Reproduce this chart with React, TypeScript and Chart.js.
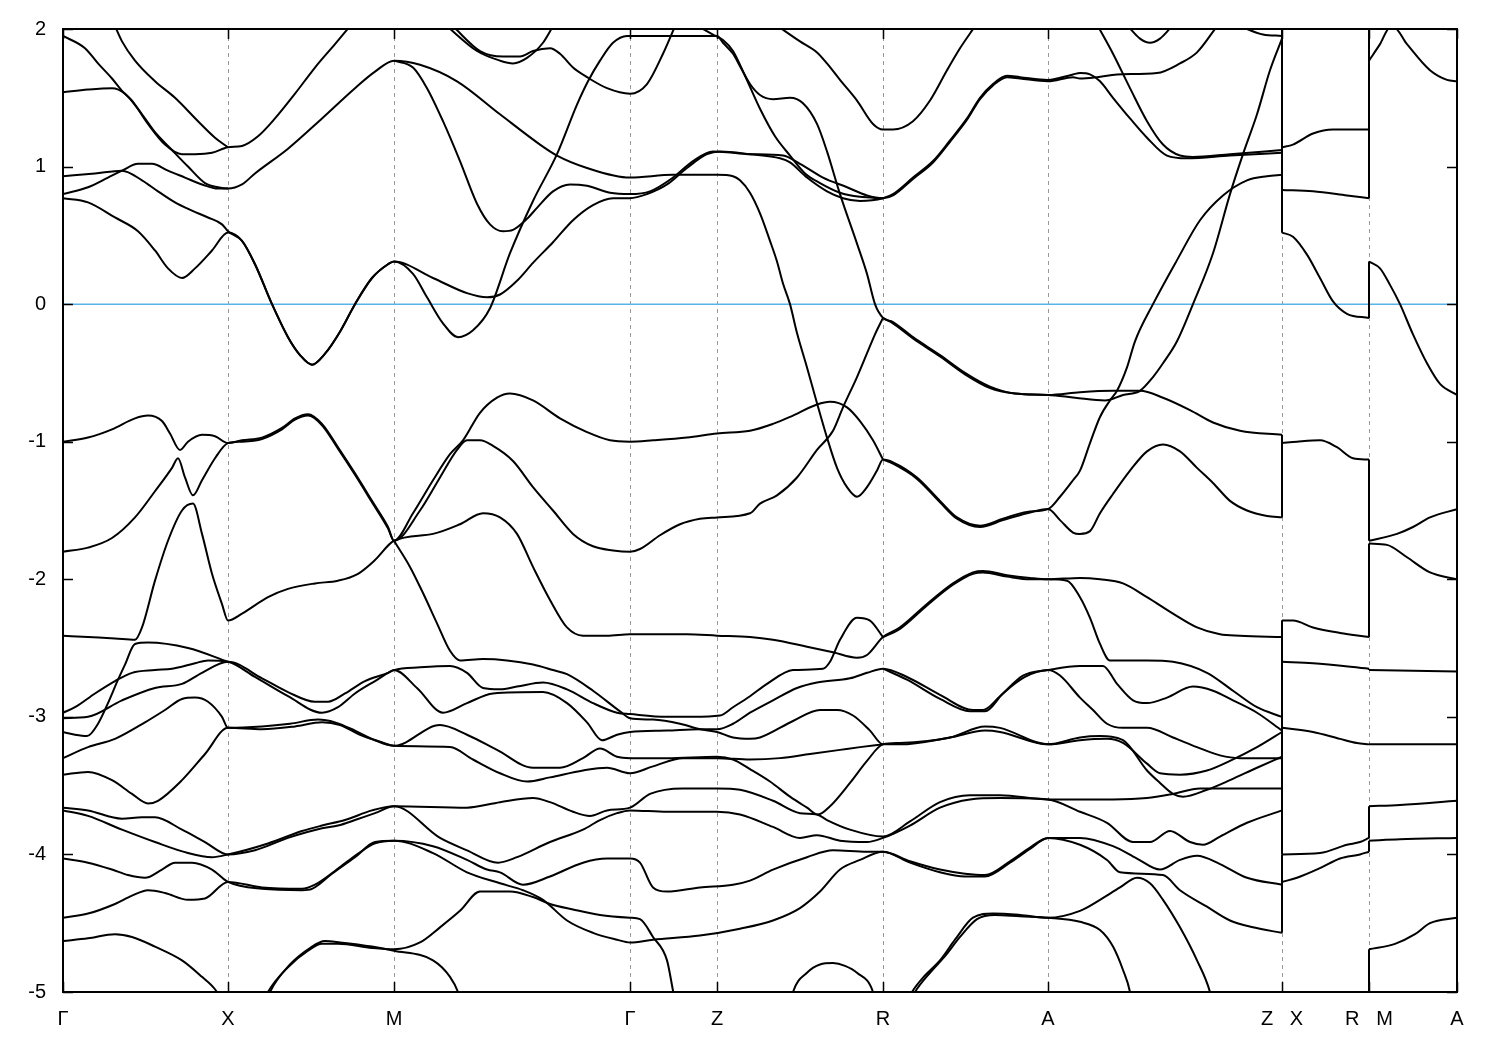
import React, { useEffect, useRef } from "react";
import { Chart, registerables } from "chart.js";
Chart.register(...registerables);

// high-symmetry k positions (path length units) and their labels
const K_POINTS = [0, 1.65, 3.31, 5.67, 6.54, 8.2, 9.85, 12.19, 13.06, 13.94];
const K_LABELS = ["Γ", "X", "M", "Γ", "Z", "R", "A", "Z   X", "R   M", "A"];
const Y_TICKS = [-5, -4, -3, -2, -1, 0, 1, 2];
const E_MIN = -5;
const E_MAX = 2;
const FERMI_LEVEL = 0;
const K_ZX = 12.19;
const K_RM = 13.06;

// ---- bands above about -1 eV (Γ-X-M-Γ-Z-R-A-Z), [k, E] pairs ----
const bandsUpper: number[][][] = [
  [[0,1.95],[0.22,1.86],[0.35,1.75],[0.49,1.64],[0.59,1.55],[0.69,1.48],[0.85,1.31],[1.02,1.16],[1.19,1.09],[1.32,1.09],[1.49,1.1],[1.65,1.14],[1.79,1.15],[1.95,1.22],[2.12,1.35],[2.32,1.53],[2.52,1.72],[2.72,1.89],[2.87,2.02]],
  [[0,1.54],[0.25,1.56],[0.49,1.57],[0.62,1.53],[0.79,1.38],[0.92,1.25],[1.09,1.12],[1.25,1.0],[1.42,0.88],[1.55,0.85],[1.65,0.84],[1.79,0.87],[1.92,0.95],[2.25,1.13],[2.59,1.35],[2.92,1.57],[3.12,1.69],[3.31,1.77],[3.57,1.74],[3.94,1.62],[4.37,1.38],[4.77,1.16],[4.94,1.08],[5.24,0.99],[5.67,0.92],[6.1,0.94],[6.54,0.94],[6.7,0.93],[6.77,0.9],[6.87,0.81],[6.97,0.66],[7.07,0.46],[7.14,0.31],[7.2,0.15],[7.27,0],[7.34,-0.21],[7.44,-0.46],[7.54,-0.72],[7.64,-0.97],[7.74,-1.19],[7.84,-1.33],[7.94,-1.4],[8.04,-1.33],[8.14,-1.21],[8.2,-1.13],[8.3,-1.15],[8.54,-1.26],[8.77,-1.43],[8.94,-1.55],[9.17,-1.61],[9.4,-1.56],[9.64,-1.51],[9.85,-1.49],[9.97,-1.4],[10.1,-1.28],[10.17,-1.21],[10.27,-1.01],[10.37,-0.82],[10.47,-0.7],[10.54,-0.63],[10.64,-0.46],[10.72,-0.27],[10.9,0],[11.14,0.32],[11.37,0.61],[11.6,0.79],[11.84,0.9],[12.04,0.93],[12.19,0.94]],
  [[0.52,2.02],[0.59,1.91],[0.72,1.77],[0.92,1.62],[1.12,1.5],[1.35,1.33],[1.52,1.21],[1.65,1.14]],
  [[0,0.8],[0.25,0.85],[0.45,0.92],[0.59,0.97],[0.75,1.02],[0.89,1.02],[1.05,0.97],[1.22,0.92],[1.39,0.87],[1.55,0.84],[1.65,0.84]],
  [[0,0.93],[0.32,0.95],[0.59,0.97],[0.79,0.9],[0.95,0.82],[1.12,0.74],[1.29,0.68],[1.45,0.63],[1.59,0.58],[1.65,0.53],[1.79,0.46],[1.92,0.29],[2.09,0],[2.25,-0.24],[2.37,-0.37],[2.49,-0.44],[2.62,-0.36],[2.77,-0.2],[2.92,0],[3.09,0.19],[3.25,0.29],[3.31,0.31],[3.7,0.19],[4.04,0.08],[4.24,0.05],[4.37,0.07],[4.54,0.17],[4.7,0.3],[4.9,0.45],[5.1,0.61],[5.3,0.72],[5.5,0.77],[5.67,0.77],[5.84,0.8],[6.04,0.87],[6.24,0.99],[6.44,1.09],[6.57,1.11],[6.87,1.09],[7.17,1.06],[7.27,1.03],[7.44,0.92],[7.64,0.82],[7.8,0.77],[7.97,0.75],[8.2,0.77],[8.3,0.8],[8.5,0.92],[8.7,1.04],[8.87,1.19],[9.04,1.35],[9.17,1.5],[9.3,1.6],[9.44,1.66],[9.57,1.65],[9.85,1.63],[10.1,1.67],[10.17,1.68],[10.27,1.67],[10.37,1.62],[10.5,1.5],[10.67,1.35],[10.84,1.21],[11.04,1.08],[11.24,1.06],[11.67,1.08],[12.19,1.1]],
  [[0,0.77],[0.25,0.74],[0.52,0.63],[0.75,0.53],[0.92,0.39],[1.05,0.26],[1.19,0.19],[1.32,0.26],[1.49,0.39],[1.65,0.52],[1.79,0.46],[1.92,0.29],[2.09,0],[2.25,-0.24],[2.37,-0.37],[2.49,-0.44],[2.62,-0.36],[2.77,-0.2],[2.92,0],[3.09,0.19],[3.25,0.29],[3.31,0.31],[3.5,0.22],[3.64,0.05],[3.8,-0.14],[3.95,-0.24],[4.1,-0.19],[4.27,-0.03],[4.47,0.37],[4.7,0.75],[4.94,1.09],[5.14,1.45],[5.25,1.62],[5.37,1.77],[5.5,1.9],[5.64,1.95],[5.87,1.95],[6.27,1.95],[6.54,1.95],[6.6,1.9],[6.7,1.82],[6.77,1.73],[6.87,1.6],[6.97,1.52],[7.1,1.49],[7.27,1.5],[7.4,1.46],[7.54,1.31],[7.64,1.11],[7.77,0.8],[7.94,0.44],[8.04,0.22],[8.12,0],[8.2,-0.1],[8.3,-0.13],[8.5,-0.24],[8.77,-0.37],[9.02,-0.5],[9.27,-0.6],[9.52,-0.65],[9.85,-0.66],[10.12,-0.68],[10.42,-0.7],[10.6,-0.66],[10.77,-0.63],[10.9,-0.53],[11.0,-0.43],[11.14,-0.27],[11.3,0],[11.5,0.37],[11.67,0.8],[11.8,1.09],[11.94,1.38],[12.07,1.7],[12.19,1.93]],
  [[6.35,2.02],[6.5,1.96],[6.6,1.92],[6.7,1.84],[6.82,1.66],[6.97,1.42],[7.12,1.22],[7.27,1.08],[7.42,0.95],[7.57,0.88],[7.77,0.81],[7.97,0.78],[8.2,0.77]],
  [[3.31,1.77],[3.5,1.72],[3.64,1.57],[3.8,1.33],[3.97,1.04],[4.14,0.73],[4.27,0.58],[4.4,0.53],[4.5,0.54],[4.64,0.62],[4.74,0.7],[4.9,0.82],[5.07,0.87],[5.24,0.86],[5.47,0.81],[5.67,0.8],[5.87,0.82],[6.1,0.92],[6.3,1.04],[6.5,1.11],[6.7,1.1],[6.87,1.09],[7.2,1.08],[7.37,1.02],[7.6,0.92],[7.84,0.85],[8.04,0.79],[8.2,0.77],[8.3,0.79],[8.5,0.91],[8.7,1.03],[8.87,1.18],[9.04,1.34],[9.17,1.49],[9.3,1.59],[9.44,1.65],[9.57,1.64],[9.85,1.62],[10.1,1.65],[10.17,1.64],[10.34,1.65],[10.54,1.67],[10.94,1.68],[11.17,1.75],[11.34,1.83],[11.54,2.02]],
  [[3.84,2.02],[4.14,1.84],[4.37,1.77],[4.5,1.75],[4.64,1.79],[4.8,1.9],[4.9,2.02]],
  [[3.9,2.02],[4.17,1.84],[4.4,1.8],[4.57,1.8],[4.7,1.84],[4.87,1.86],[4.97,1.82],[5.1,1.72],[5.24,1.65],[5.44,1.57],[5.67,1.53],[5.84,1.6],[6.0,1.82],[6.12,2.02]],
  [[7.15,2.02],[7.37,1.91],[7.54,1.83],[7.64,1.75],[7.77,1.63],[7.94,1.48],[8.1,1.31],[8.2,1.27],[8.3,1.27],[8.5,1.33],[8.67,1.48],[8.84,1.7],[8.97,1.86],[9.12,2.02]],
  [[10.35,2.02],[10.5,1.82],[10.67,1.57],[10.84,1.33],[11.0,1.16],[11.17,1.08],[11.3,1.07],[11.67,1.09],[12.19,1.12]],
  [[10.65,2.02],[10.77,1.93],[10.87,1.9],[10.97,1.93],[11.09,2.02]],
  [[11.77,2.02],[12.0,1.96],[12.19,1.95]],
];

// ---- bands below about -1 eV ----
const bandsLower: number[][][] = [
  [[0,-1],[0.25,-0.97],[0.49,-0.91],[0.72,-0.83],[0.85,-0.81],[0.99,-0.85],[1.07,-0.94],[1.17,-1.06],[1.25,-1],[1.39,-0.95],[1.52,-0.96],[1.65,-1.01],[1.79,-0.99],[1.99,-0.97],[2.19,-0.9],[2.32,-0.83],[2.45,-0.8],[2.59,-0.87],[2.75,-1.04],[2.92,-1.23],[3.09,-1.43],[3.25,-1.62],[3.31,-1.72],[3.5,-1.52],[3.7,-1.28],[3.87,-1.09],[4.0,-0.99],[4.17,-0.79],[4.34,-0.68],[4.47,-0.65],[4.7,-0.7],[4.97,-0.83],[5.24,-0.93],[5.47,-0.99],[5.67,-1],[5.9,-0.99],[6.24,-0.97],[6.54,-0.94],[6.87,-0.92],[7.1,-0.87],[7.27,-0.82],[7.54,-0.73],[7.67,-0.71],[7.84,-0.75],[7.97,-0.85],[8.1,-0.99],[8.2,-1.13]],
  [[0,-1.8],[0.25,-1.77],[0.49,-1.7],[0.72,-1.55],[0.92,-1.36],[1.09,-1.19],[1.15,-1.12],[1.22,-1.26],[1.3,-1.39],[1.39,-1.28],[1.52,-1.12],[1.65,-1.01],[1.79,-1.0],[1.99,-0.98],[2.19,-0.91],[2.32,-0.84],[2.45,-0.81],[2.59,-0.88],[2.75,-1.05],[2.92,-1.24],[3.09,-1.44],[3.25,-1.63],[3.31,-1.72],[3.57,-1.5],[3.77,-1.26],[3.94,-1.06],[4.04,-0.99],[4.17,-0.99],[4.3,-1.03],[4.5,-1.14],[4.7,-1.33],[4.9,-1.5],[5.1,-1.67],[5.3,-1.76],[5.5,-1.79],[5.67,-1.8],[5.77,-1.78],[5.97,-1.68],[6.17,-1.6],[6.37,-1.56],[6.54,-1.55],[6.87,-1.52],[6.97,-1.45],[7.14,-1.39],[7.34,-1.26],[7.54,-1.06],[7.7,-0.92],[7.8,-0.75],[7.94,-0.53],[8.05,-0.34],[8.12,-0.22],[8.2,-0.1]],
  [[0,-2.41],[0.25,-2.42],[0.52,-2.43],[0.72,-2.44],[0.79,-2.35],[0.92,-2.01],[1.05,-1.72],[1.19,-1.5],[1.3,-1.45],[1.39,-1.67],[1.49,-1.96],[1.59,-2.18],[1.65,-2.3],[1.79,-2.25],[2.05,-2.13],[2.25,-2.07],[2.52,-2.03],[2.75,-2.01],[2.95,-1.96],[3.12,-1.86],[3.31,-1.72],[3.7,-1.67],[3.97,-1.6],[4.2,-1.52],[4.37,-1.55],[4.54,-1.67],[4.7,-1.91],[4.87,-2.15],[5.04,-2.35],[5.2,-2.41],[5.44,-2.41],[5.67,-2.4],[6.24,-2.4],[6.54,-2.41],[6.87,-2.42],[7.1,-2.44],[7.44,-2.49],[7.7,-2.53],[7.94,-2.57],[8.04,-2.55],[8.2,-2.42],[8.37,-2.35],[8.64,-2.18],[8.9,-2.03],[9.1,-1.95],[9.2,-1.94],[9.44,-1.97],[9.67,-1.99],[9.85,-2],[10.17,-1.99],[10.37,-2],[10.6,-2.03],[10.84,-2.13],[11.1,-2.25],[11.34,-2.35],[11.57,-2.4],[11.77,-2.41],[12.19,-2.42]],
  [[3.31,-1.72],[3.47,-1.91],[3.6,-2.1],[3.74,-2.32],[3.87,-2.52],[3.97,-2.59],[4.2,-2.58],[4.44,-2.59],[4.7,-2.62],[4.9,-2.66],[5.04,-2.69],[5.3,-2.81],[5.57,-2.96],[5.67,-3.01],[5.9,-3.02],[6.17,-3.05],[6.37,-3.09],[6.54,-3.11],[6.7,-3.15],[6.87,-3.16],[6.97,-3.15],[7.3,-3.03],[7.57,-2.95],[7.74,-2.95],[7.9,-2.99],[8.07,-3.1],[8.2,-3.2],[8.37,-3.2],[8.87,-3.15],[9.22,-3.1],[9.37,-3.11],[9.85,-3.2],[10.17,-3.15],[10.37,-3.14],[10.6,-3.17],[10.84,-3.39],[10.97,-3.48],[11.1,-3.56],[11.2,-3.58],[11.44,-3.53],[11.67,-3.46],[11.94,-3.37],[12.19,-3.29]],
  [[0,-2.97],[0.12,-2.93],[0.32,-2.83],[0.52,-2.74],[0.69,-2.68],[0.92,-2.66],[1.09,-2.65],[1.32,-2.61],[1.45,-2.59],[1.65,-2.6],[1.92,-2.71],[2.25,-2.85],[2.59,-2.97],[2.75,-2.93],[2.92,-2.83],[3.12,-2.74],[3.31,-2.66],[3.57,-2.64],[3.87,-2.63],[4.04,-2.68],[4.2,-2.79],[4.37,-2.8],[4.54,-2.78],[4.8,-2.75],[5.04,-2.8],[5.3,-2.9],[5.54,-2.97],[5.67,-2.98],[6.04,-3.0],[6.3,-3.0],[6.57,-2.99],[6.7,-2.93],[6.87,-2.85],[7.04,-2.76],[7.3,-2.66],[7.6,-2.65],[7.67,-2.6],[7.77,-2.44],[7.94,-2.28],[8.07,-2.3],[8.2,-2.42]],
  [[0,-3.01],[0.25,-3.0],[0.59,-2.88],[0.92,-2.79],[1.19,-2.76],[1.39,-2.68],[1.65,-2.6],[1.99,-2.72],[2.25,-2.82],[2.52,-2.89],[2.65,-2.89],[2.82,-2.83],[3.02,-2.74],[3.25,-2.68],[3.31,-2.66],[3.54,-2.79],[3.8,-2.97],[4.04,-2.9],[4.3,-2.83],[4.8,-2.82],[5.04,-2.9],[5.24,-3.04],[5.39,-3.17],[5.54,-3.13],[5.67,-3.11],[6.04,-3.1],[6.37,-3.09],[6.54,-3.09],[6.7,-3.05],[6.87,-2.97],[7.1,-2.88],[7.34,-2.79],[7.54,-2.75],[7.87,-2.72],[8.04,-2.68],[8.2,-2.65],[8.44,-2.71],[8.77,-2.84],[9.1,-2.95],[9.2,-2.95],[9.37,-2.85],[9.6,-2.7],[9.85,-2.66],[10.17,-2.63],[10.4,-2.63],[10.54,-2.76],[10.7,-2.88],[10.84,-2.9],[11.04,-2.86],[11.3,-2.78],[11.5,-2.81],[11.7,-2.88],[11.94,-2.97],[12.19,-3.1]],
  [[0,-3.11],[0.12,-3.13],[0.24,-3.14],[0.35,-3.05],[0.45,-2.9],[0.55,-2.73],[0.62,-2.62],[0.72,-2.47],[0.85,-2.46],[1.25,-2.5],[1.65,-2.6]],
  [[0,-3.3],[0.25,-3.22],[0.52,-3.16],[0.82,-3.04],[1.02,-2.95],[1.19,-2.87],[1.32,-2.86],[1.45,-2.89],[1.59,-3.0],[1.65,-3.08],[1.99,-3.07],[2.27,-3.05],[2.55,-3.02],[2.72,-3.04],[2.92,-3.1],[3.12,-3.17],[3.31,-3.21],[3.77,-3.06],[4.04,-3.13],[4.34,-3.24],[4.7,-3.37],[4.97,-3.37],[5.2,-3.3],[5.37,-3.23],[5.54,-3.29],[5.67,-3.3],[6.04,-3.3],[6.54,-3.29],[6.7,-3.31],[6.87,-3.38],[7.07,-3.47],[7.27,-3.58],[7.44,-3.66],[7.55,-3.71],[7.67,-3.65],[7.87,-3.48],[8.04,-3.32],[8.2,-3.2],[8.37,-3.19],[8.87,-3.15],[9.22,-3.07],[9.37,-3.08],[9.85,-3.2],[10.17,-3.17],[10.44,-3.16],[10.6,-3.19],[10.84,-3.34],[10.97,-3.41],[11.17,-3.42],[11.44,-3.39],[11.67,-3.32],[11.94,-3.22],[12.19,-3.11]],
  [[0,-3.42],[0.25,-3.4],[0.49,-3.46],[0.69,-3.56],[0.85,-3.63],[0.95,-3.61],[1.19,-3.46],[1.42,-3.27],[1.65,-3.08],[1.99,-3.09],[2.32,-3.07],[2.59,-3.04],[2.77,-3.06],[2.97,-3.13],[3.17,-3.18],[3.31,-3.21],[3.87,-3.22],[4.1,-3.31],[4.37,-3.41],[4.64,-3.47],[4.87,-3.44],[5.2,-3.39],[5.44,-3.37],[5.67,-3.41],[5.9,-3.36],[6.2,-3.3],[6.54,-3.3],[6.87,-3.31],[7.17,-3.3],[7.47,-3.27],[7.77,-3.24],[7.97,-3.22],[8.2,-3.2]],
  [[0,-3.66],[0.25,-3.68],[0.59,-3.74],[0.79,-3.73],[0.92,-3.73],[1.19,-3.82],[1.42,-3.91],[1.65,-4],[1.92,-3.97],[2.25,-3.88],[2.59,-3.81],[2.75,-3.79],[2.92,-3.75],[3.12,-3.7],[3.31,-3.65],[4.04,-3.66],[4.37,-3.62],[4.7,-3.59],[4.87,-3.62],[5.1,-3.69],[5.27,-3.72],[5.44,-3.68],[5.67,-3.66],[5.87,-3.56],[6.2,-3.52],[6.54,-3.52],[6.77,-3.53],[7.1,-3.61],[7.37,-3.7],[7.54,-3.71],[7.64,-3.75],[7.87,-3.82],[8.2,-3.87],[8.47,-3.76],[8.77,-3.62],[9.07,-3.57],[9.37,-3.57],[9.85,-3.6],[10.17,-3.6],[10.5,-3.6],[10.84,-3.59],[11.1,-3.56],[11.37,-3.52],[11.67,-3.52],[12.19,-3.52]],
  [[0,-3.68],[0.25,-3.72],[0.59,-3.82],[0.92,-3.91],[1.25,-3.99],[1.49,-4.02],[1.65,-4],[2.05,-3.92],[2.39,-3.83],[2.59,-3.79],[2.82,-3.75],[3.09,-3.68],[3.31,-3.65],[3.77,-3.88],[4.04,-3.97],[4.35,-4.06],[4.54,-4.02],[4.87,-3.91],[5.2,-3.82],[5.37,-3.75],[5.54,-3.7],[5.67,-3.68],[6.04,-3.69],[6.54,-3.69],[6.77,-3.71],[7.1,-3.8],[7.37,-3.88],[7.54,-3.86],[7.77,-3.9],[8.04,-3.91],[8.2,-3.88],[8.47,-3.79],[8.77,-3.66],[9.07,-3.6],[9.37,-3.59],[9.85,-3.6],[10.17,-3.69],[10.44,-3.77],[10.7,-3.91],[10.87,-3.91],[11.07,-3.83],[11.27,-3.91],[11.4,-3.93],[11.57,-3.87],[11.84,-3.77],[12.19,-3.68]],
  [[0,-4.03],[0.25,-4.06],[0.49,-4.11],[0.65,-4.15],[0.82,-4.17],[0.99,-4.11],[1.12,-4.06],[1.29,-4.06],[1.49,-4.11],[1.65,-4.2],[1.99,-4.25],[2.39,-4.26],[2.49,-4.25],[2.69,-4.14],[2.92,-4.02],[3.12,-3.91],[3.31,-3.9],[3.7,-3.94],[4.04,-4.04],[4.24,-4.11],[4.37,-4.13],[4.6,-4.22],[4.87,-4.16],[5.2,-4.06],[5.44,-4.03],[5.67,-4.03],[5.77,-4.06],[5.9,-4.24],[6.04,-4.27],[6.37,-4.24],[6.7,-4.22],[6.87,-4.19],[7.1,-4.11],[7.44,-4.02],[7.7,-3.97],[8.04,-3.98],[8.2,-3.98],[8.47,-4.05],[8.77,-4.11],[9.02,-4.14],[9.22,-4.15],[9.47,-4.05],[9.67,-3.95],[9.85,-3.88],[10.17,-3.88],[10.5,-3.94],[10.74,-4.03],[10.97,-4.11],[11.17,-4.04],[11.34,-4.01],[11.57,-4.07],[11.84,-4.17],[12.19,-4.22]],
  [[0,-4.46],[0.25,-4.43],[0.52,-4.36],[0.69,-4.3],[0.85,-4.26],[1.02,-4.28],[1.25,-4.33],[1.42,-4.32],[1.65,-4.2],[1.99,-4.24],[2.39,-4.25],[2.52,-4.22],[2.72,-4.12],[2.92,-4.01],[3.12,-3.92],[3.31,-3.9],[3.7,-3.99],[4.04,-4.13],[4.37,-4.21],[4.6,-4.26],[4.8,-4.33],[5.04,-4.48],[5.3,-4.57],[5.54,-4.62],[5.67,-4.64],[5.9,-4.62],[6.37,-4.59],[6.77,-4.54],[7.1,-4.48],[7.37,-4.39],[7.57,-4.27],[7.77,-4.11],[7.97,-4.04],[8.2,-3.98],[8.47,-4.06],[8.77,-4.13],[9.02,-4.16],[9.22,-4.16],[9.47,-4.06],[9.67,-3.96],[9.85,-3.88],[10.17,-3.93],[10.44,-4.04],[10.57,-4.13],[11.0,-4.15],[11.17,-4.26],[11.44,-4.38],[11.67,-4.48],[11.9,-4.53],[12.19,-4.57]],
  [[0,-4.63],[0.25,-4.61],[0.52,-4.58],[0.69,-4.6],[0.92,-4.67],[1.19,-4.77],[1.39,-4.89],[1.52,-4.98],[1.62,-5.1]],
  [[1.99,-5.1],[2.05,-5.0],[2.25,-4.82],[2.45,-4.7],[2.59,-4.65],[2.75,-4.65],[3.09,-4.68],[3.31,-4.69],[3.57,-4.64],[3.77,-4.53],[3.97,-4.41],[4.17,-4.27],[4.47,-4.27],[4.7,-4.31],[4.87,-4.36],[5.1,-4.4],[5.37,-4.44],[5.67,-4.46],[5.77,-4.47],[5.9,-4.6],[6.04,-4.77],[6.1,-4.99],[6.13,-5.1]],
  [[2.02,-5.1],[2.07,-5.0],[2.27,-4.8],[2.47,-4.68],[2.62,-4.63],[2.77,-4.64],[3.09,-4.67],[3.31,-4.7],[3.7,-4.77],[3.87,-4.89],[3.95,-5.0],[3.99,-5.1]],
  [[7.27,-5.1],[7.3,-5.0],[7.44,-4.86],[7.57,-4.8],[7.7,-4.79],[7.82,-4.81],[7.94,-4.86],[8.1,-5.0],[8.13,-5.1]],
  [[8.42,-5.1],[8.49,-5.0],[8.62,-4.88],[8.77,-4.77],[8.92,-4.62],[9.1,-4.46],[9.3,-4.43],[9.57,-4.44],[9.85,-4.46],[10.17,-4.41],[10.37,-4.33],[10.57,-4.24],[10.74,-4.17],[10.87,-4.21],[11.0,-4.33],[11.17,-4.53],[11.34,-4.77],[11.47,-5.0],[11.5,-5.1]],
  [[8.45,-5.1],[8.52,-5.0],[8.67,-4.86],[8.82,-4.74],[8.97,-4.6],[9.14,-4.47],[9.32,-4.44],[9.57,-4.45],[9.85,-4.46],[10.17,-4.49],[10.37,-4.55],[10.5,-4.67],[10.6,-4.84],[10.67,-5.0],[10.69,-5.1]],
  [[8.2,-2.65],[8.44,-2.73],[8.77,-2.87],[9.07,-2.96],[9.22,-2.96],[9.4,-2.83],[9.62,-2.71],[9.85,-2.66],[9.97,-2.7],[10.17,-2.86],[10.3,-2.95],[10.44,-3.05],[10.6,-3.08],[10.84,-3.08],[11.1,-3.15],[11.34,-3.22],[11.57,-3.28],[11.77,-3.3],[12.19,-3.3]],
  [[8.2,-2.42],[8.37,-2.36],[8.64,-2.19],[8.9,-2.04],[9.1,-1.96],[9.2,-1.95],[9.44,-1.98],[9.67,-2.0],[9.85,-2.0],[10.04,-2.01],[10.17,-2.13],[10.27,-2.28],[10.37,-2.47],[10.47,-2.59],[10.84,-2.59],[11.1,-2.6],[11.44,-2.68],[11.7,-2.81],[11.94,-2.93],[12.19,-3.0]],
  [[8.2,-1.13],[8.3,-1.16],[8.54,-1.27],[8.77,-1.44],[8.94,-1.56],[9.17,-1.62],[9.4,-1.57],[9.64,-1.52],[9.85,-1.49],[9.97,-1.57],[10.1,-1.66],[10.17,-1.67],[10.27,-1.65],[10.37,-1.52],[10.5,-1.38],[10.67,-1.21],[10.84,-1.07],[11.0,-1.02],[11.17,-1.07],[11.34,-1.19],[11.5,-1.3],[11.67,-1.43],[11.84,-1.5],[12.04,-1.54],[12.19,-1.55]],
  [[8.2,-0.1],[8.3,-0.14],[8.5,-0.25],[8.77,-0.38],[9.02,-0.51],[9.27,-0.61],[9.52,-0.65],[9.85,-0.66],[10.17,-0.64],[10.5,-0.63],[10.77,-0.63],[11.0,-0.68],[11.27,-0.77],[11.5,-0.86],[11.77,-0.92],[12.19,-0.95]],
];

// ---- X -> R segment ----
const bandsXR: number[][][] = [
  [[12.19,1.14],[12.3,1.16],[12.5,1.24],[12.7,1.27],[13.06,1.27]],
  [[12.19,0.83],[12.5,0.82],[12.84,0.79],[13.06,0.77]],
  [[12.19,0.52],[12.3,0.49],[12.44,0.36],[12.57,0.19],[12.7,0.02],[12.84,-0.07],[13.06,-0.1]],
  [[12.19,-1.01],[12.34,-1.0],[12.57,-0.99],[12.74,-1.04],[12.9,-1.12],[13.06,-1.13]],
  [[12.19,-2.3],[12.3,-2.3],[12.5,-2.35],[12.77,-2.39],[13.06,-2.42]],
  [[12.19,-2.6],[12.5,-2.61],[13.06,-2.65]],
  [[12.19,-3.08],[12.5,-3.11],[12.77,-3.16],[12.94,-3.19],[13.06,-3.2]],
  [[12.19,-4.0],[12.57,-3.99],[12.84,-3.93],[12.97,-3.91],[13.06,-3.88]],
  [[12.19,-4.2],[12.34,-4.17],[12.57,-4.1],[12.77,-4.03],[12.97,-4.0],[13.06,-3.98]],
];

// ---- M -> A segment ----
const bandsMA: number[][][] = [
  [[13.06,1.77],[13.17,1.89],[13.27,2.01],[13.31,2.01],[13.44,1.89],[13.67,1.7],[13.84,1.63],[13.94,1.62]],
  [[13.06,0.31],[13.17,0.26],[13.27,0.14],[13.37,0],[13.5,-0.22],[13.64,-0.43],[13.77,-0.58],[13.94,-0.66]],
  [[13.06,-1.72],[13.34,-1.67],[13.5,-1.62],[13.67,-1.55],[13.94,-1.49]],
  [[13.06,-1.74],[13.24,-1.75],[13.44,-1.84],[13.67,-1.95],[13.94,-2.0]],
  [[13.06,-2.66],[13.94,-2.67]],
  [[13.06,-3.2],[13.94,-3.2]],
  [[13.06,-3.65],[13.37,-3.64],[13.94,-3.61]],
  [[13.06,-3.9],[13.37,-3.89],[13.94,-3.88]],
  [[13.06,-4.69],[13.32,-4.65],[13.52,-4.58],[13.67,-4.5],[13.94,-4.46]],
];

// band energy jumps at the path discontinuities: [E before, E after]
const jumpsZX: number[][] = [
  [2.2,1.14],[1.95,1.14],[1.93,0.83],[1.12,0.83],[1.1,0.52],[0.94,0.52],
  [-0.95,-1.01],[-1.55,-1.01],[-2.42,-2.3],[-3.0,-2.3],[-3.1,-2.6],[-3.29,-2.6],
  [-3.11,-3.08],[-3.68,-3.08],[-3.52,-4.0],[-4.22,-4.0],[-4.57,-4.2],
];
const jumpsRM: number[][] = [
  [1.27,2.2],[0.77,1.77],[-0.1,0.31],[-1.13,-1.72],[-2.42,-1.74],[-2.65,-2.66],
  [-3.2,-3.2],[-3.88,-3.65],[-3.98,-3.9],[-5.3,-4.69],
];

const BAND_COLOR = "#000000";
const FERMI_COLOR = "#56b4e9";
const FONT = "'Liberation Sans', Arial, sans-serif";
const BAND_WIDTH = 2;

const framePlugin = {
  id: "gnuplotFrame",
  afterDatasetsDraw(chart: any) {
    const { ctx, chartArea: a, scales } = chart;
    ctx.save();
    ctx.strokeStyle = "#000";
    ctx.lineWidth = 1.5;
    ctx.beginPath();
    for (const v of Y_TICKS) {
      const y = Math.round(scales.y.getPixelForValue(v)) + 0.5;
      ctx.moveTo(a.left, y); ctx.lineTo(a.left + 10, y);
      ctx.moveTo(a.right, y); ctx.lineTo(a.right - 10, y);
    }
    for (const k of K_POINTS) {
      const x = Math.round(scales.x.getPixelForValue(k)) + 0.5;
      ctx.moveTo(x, a.bottom); ctx.lineTo(x, a.bottom - 10);
      ctx.moveTo(x, a.top); ctx.lineTo(x, a.top + 10);
    }
    ctx.stroke();
    ctx.lineWidth = 2;
    ctx.strokeRect(a.left, a.top, a.right - a.left, a.bottom - a.top);
    ctx.restore();
  },
};

function toPts(arr: number[][]) {
  return arr.map(([x, y]) => ({ x, y }));
}

export default function App() {
  const ref = useRef<HTMLCanvasElement>(null);
  useEffect(() => {
    const smooth = (pts: number[][]) => ({
      data: toPts(pts),
      borderColor: BAND_COLOR,
      borderWidth: BAND_WIDTH,
      pointRadius: 0,
      fill: false,
      cubicInterpolationMode: "monotone" as const,
      order: 1,
    });
    const straight = (pts: number[][]) => ({
      data: toPts(pts),
      borderColor: BAND_COLOR,
      borderWidth: BAND_WIDTH,
      pointRadius: 0,
      fill: false,
      tension: 0,
      order: 1,
    });
    const datasets: any[] = [
      {
        data: [{ x: K_POINTS[0], y: FERMI_LEVEL }, { x: K_POINTS[K_POINTS.length - 1], y: FERMI_LEVEL }],
        borderColor: FERMI_COLOR,
        borderWidth: 1.5,
        pointRadius: 0,
        tension: 0,
        order: 2,
      },
      ...bandsUpper.map(smooth),
      ...bandsLower.map(smooth),
      ...bandsXR.map(smooth),
      ...bandsMA.map(smooth),
      ...jumpsZX.map(([a, b]) => straight([[K_ZX, a], [K_ZX, b]])),
      ...jumpsRM.map(([a, b]) => straight([[K_RM, a], [K_RM, b]])),
    ];
    const chart = new Chart(ref.current as HTMLCanvasElement, {
      type: "line",
      data: { datasets },
      options: {
        animation: false,
        responsive: false,
        maintainAspectRatio: false,
        devicePixelRatio: 1,
        events: [],
        layout: { padding: { left: 0, top: 28, right: 43, bottom: 0 } },
        plugins: { legend: { display: false }, tooltip: { enabled: false } },
        elements: { point: { radius: 0 } },
        scales: {
          x: {
            type: "linear",
            min: K_POINTS[0],
            max: K_POINTS[K_POINTS.length - 1],
            afterBuildTicks: (s: any) => {
              s.ticks = K_POINTS.map((v) => ({ value: v }));
            },
            afterFit: (s: any) => {
              s.height = 58;
            },
            ticks: {
              autoSkip: false,
              maxRotation: 0,
              minRotation: 0,
              padding: 15,
              color: "#000",
              font: { family: FONT, size: 20 },
              callback: (_v: any, i: number) => K_LABELS[i],
            },
            grid: { color: "#9a9a9a", lineWidth: 1, drawTicks: false },
            border: { display: false, dash: [4, 4] },
          },
          y: {
            type: "linear",
            min: E_MIN,
            max: E_MAX,
            afterBuildTicks: (s: any) => {
              s.ticks = Y_TICKS.map((v) => ({ value: v }));
            },
            afterFit: (s: any) => {
              s.width = 63;
            },
            ticks: {
              padding: 17,
              color: "#000",
              font: { family: FONT, size: 20 },
              callback: (v: any) => String(v),
            },
            grid: { display: false, drawTicks: false },
            border: { display: false },
          },
        },
      },
      plugins: [framePlugin],
    });
    return () => chart.destroy();
  }, []);
  return (
    <div style={{ position: "fixed", left: 0, top: 0, width: 1500, height: 1050, background: "#fff" }}>
      <canvas ref={ref} width={1500} height={1050} style={{ display: "block", width: 1500, height: 1050 }} />
    </div>
  );
}
